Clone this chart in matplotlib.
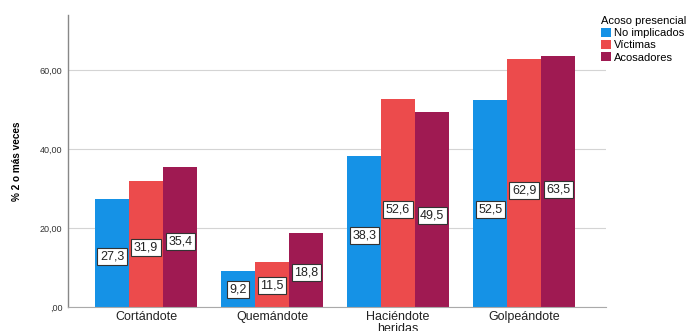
import numpy as np
import matplotlib.pyplot as plt

categories = ["Cortándote", "Quemándote", "Haciéndote\nheridas", "Golpeándote"]
series_names = ["No implicados", "Víctimas", "Acosadores"]
no_implicados = [27.3, 9.2, 38.3, 52.5]
victimas = [31.9, 11.5, 52.6, 62.9]
acosadores = [35.4, 18.8, 49.5, 63.5]
colors = ["#1592e6", "#ec4b4c", "#9f1a52"]
yticks = [0, 20, 40, 60]
ytick_labels = [",00", "20,00", "40,00", "60,00"]

plt.rcParams['font.family'] = ['Liberation Sans', 'DejaVu Sans']

fig = plt.figure(figsize=(6.99, 3.31), dpi=100)
ax = fig.add_axes([68 / 699, 24 / 331, (606 - 68) / 699, (316 - 24) / 331])

x = np.arange(len(categories))
w = 0.27
data = [no_implicados, victimas, acosadores]
for i, (vals, name, c) in enumerate(zip(data, series_names, colors)):
    pos = x + (i - 1) * w
    ax.bar(pos, vals, width=w, color=c, label=name, zorder=2)
    for p, v in zip(pos, vals):
        ax.text(p, v * 0.47, f"{v:.1f}".replace(".", ","), ha="center", va="center",
                fontsize=9, color="#222222", zorder=3,
                bbox=dict(boxstyle="square,pad=0.2", fc="white", ec="#333333", lw=0.8))

ax.set_xlim(-0.62, 3.65)
ax.set_ylim(0, 74)
ax.set_yticks(yticks)
ax.set_yticklabels(ytick_labels, fontsize=6.5, color="#333333")
ax.set_xticks(x)
ax.set_xticklabels(categories, fontsize=9, color="#222222", linespacing=0.95)
ax.tick_params(axis="both", length=0, pad=3)
ax.tick_params(axis="y", pad=4)
ax.yaxis.grid(True, color="#d4d4d4", lw=0.8, zorder=0)
ax.set_axisbelow(True)
for s in ["top", "right"]:
    ax.spines[s].set_visible(False)
ax.spines["left"].set_color("#888888")
ax.spines["bottom"].set_color("#aaaaaa")
ax.spines["left"].set_linewidth(1.0)
ax.set_ylabel("% 2 o más veces", fontsize=7.2, fontweight="bold", labelpad=13)

leg = ax.legend(title="Acoso presencial", loc="upper left", bbox_to_anchor=(0.98, 1.015),
                frameon=False, fontsize=8, title_fontsize=8, handlelength=0.9,
                handleheight=0.9, handletextpad=0.3, labelspacing=0.15, borderpad=0.0)
leg._legend_box.align = "left"

fig.savefig("out.png", dpi=100)
